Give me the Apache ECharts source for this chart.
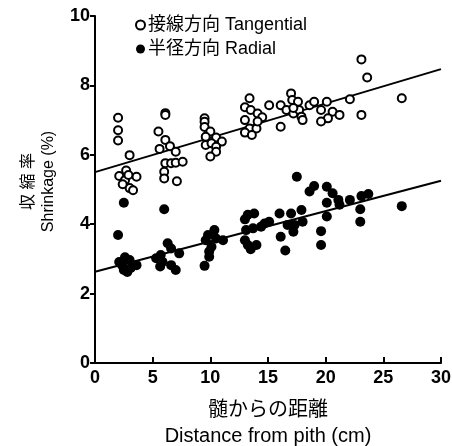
<!DOCTYPE html>
<html>
<head>
<meta charset="utf-8">
<script src="https://cdn.jsdelivr.net/npm/echarts@6/dist/echarts.min.js"></script>
<style>
  html, body { margin: 0; padding: 0; background: #fff; }
  #chart { width: 452px; height: 446px; }
</style>
</head>
<body>
<div id="chart"></div>
<script>
// 接線方向 (open circles): [distance cm, shrinkage %]
const tangential = [
  [2.0, 7.07], [2.0, 6.71], [2.0, 6.41], [3.0, 5.99], [2.1, 5.39], [2.6, 5.27],
  [2.7, 5.55], [3.0, 5.04], [3.3, 4.98], [3.6, 5.37], [2.9, 5.42], [2.4, 5.15],
  [5.5, 6.67], [6.1, 7.2], [6.1, 7.15], [6.1, 6.43], [5.6, 6.17], [6.5, 6.25],
  [7.0, 6.09], [6.1, 5.76], [6.6, 5.76], [7.0, 5.77], [7.6, 5.8], [6.0, 5.51],
  [6.0, 5.32], [7.1, 5.24],
  [9.5, 7.05], [9.5, 6.95], [9.5, 6.8], [10.0, 6.67], [9.6, 6.52], [10.5, 6.5],
  [11.0, 6.38], [9.6, 6.28], [10.1, 6.33], [10.5, 6.23], [10.5, 6.09], [10.0, 5.95],
  [13.4, 7.63], [13.0, 7.37], [13.5, 7.29], [14.1, 7.19], [14.5, 7.08], [13.0, 7.0],
  [13.4, 6.76], [14.0, 6.76], [13.0, 6.64], [13.6, 6.57], [14.1, 6.96], [15.1, 7.43],
  [16.1, 7.43], [16.1, 6.81], [17.0, 7.77], [17.1, 7.58], [17.6, 7.53], [16.6, 7.29],
  [17.2, 7.19], [17.7, 7.29], [17.9, 7.1], [17.2, 7.35],
  [18.6, 7.43], [19.0, 7.53], [20.1, 7.53], [19.6, 7.29], [20.6, 7.24], [21.2, 7.15],
  [20.2, 7.05], [19.6, 6.96], [18.0, 7.0],
  [22.1, 7.6], [23.1, 8.75], [23.6, 8.23], [23.1, 7.15], [26.6, 7.63]
];

// 半径方向 (filled circles)
const radial = [
  [2.5, 4.62], [2.0, 3.69], [2.1, 2.91], [2.6, 3.05], [3.0, 2.97], [2.5, 2.68],
  [3.1, 2.74], [3.6, 2.82], [2.35, 2.82], [2.8, 2.62],
  [6.0, 4.43], [5.3, 3.02], [5.7, 3.11], [6.3, 3.45], [6.6, 3.3], [7.3, 3.16],
  [5.85, 2.92], [6.6, 2.82], [7.0, 2.68], [5.65, 2.78],
  [9.5, 2.8], [9.9, 3.21], [10.35, 3.83], [9.8, 3.69], [10.5, 3.59], [11.1, 3.54],
  [10.1, 3.35], [9.9, 3.06], [9.6, 3.54],
  [13.25, 4.27], [13.8, 4.31], [13.0, 4.14], [13.1, 3.83], [13.7, 3.88], [13.0, 3.54],
  [13.25, 3.4], [14.0, 3.4], [13.5, 3.28], [14.7, 4.02], [15.1, 4.07], [14.4, 3.93],
  [16.0, 4.31], [16.1, 3.64], [16.5, 3.24], [17.0, 4.31], [16.7, 3.98], [17.2, 3.78],
  [17.5, 5.37], [17.9, 4.41], [17.3, 3.98], [18.0, 4.07],
  [18.6, 4.94], [19.0, 5.1], [20.1, 5.08], [20.6, 4.89], [21.1, 4.7], [20.1, 4.62],
  [20.1, 4.22], [19.6, 3.8], [19.6, 3.4], [21.2, 4.56],
  [22.1, 4.7], [23.1, 4.81], [23.7, 4.87], [23.0, 4.43], [23.0, 4.07], [26.6, 4.52]
];

// regression lines, end points
const tangentialFit = [[0, 5.5], [30, 8.47]];
const radialFit = [[0, 2.63], [30, 5.25]];

const xTicks = [0, 30, 5];   // min, max, interval
const yTicks = [0, 10, 2];

const FONT = "'Liberation Sans', 'Noto Sans CJK JP', sans-serif";

const chart = echarts.init(document.getElementById('chart'));

const option = {
  animation: false,
  textStyle: { fontFamily: FONT, color: '#000' },
  legend: {
    orient: 'vertical',
    left: 130,
    top: 11,
    itemWidth: 9,
    itemHeight: 9,
    itemGap: 6,
    icon: 'circle',
    selectedMode: false,
    data: ['接線方向 Tangential', '半径方向 Radial'],
    textStyle: { fontFamily: FONT, fontSize: 18, color: '#000', padding: [0, 0, 0, -2] },
  },
  grid: { left: 95, right: 11, top: 16, bottom: 83, outerBoundsMode: 'none' },
  xAxis: {
    type: 'value',
    min: xTicks[0],
    max: xTicks[1],
    interval: xTicks[2],
    name: '髄からの距離\nDistance from pith (cm)',
    nameLocation: 'middle',
    nameGap: 34,
    nameTextStyle: { fontFamily: FONT, fontSize: 20, lineHeight: 26, color: '#000' },
    axisLine: { lineStyle: { color: '#000', width: 2 } },
    axisTick: { inside: true, length: 6, lineStyle: { color: '#000', width: 2 } },
    axisLabel: { margin: 6, fontSize: 18, fontWeight: 'bold', color: '#000', fontFamily: FONT },
    splitLine: { show: false },
  },
  yAxis: {
    type: 'value',
    min: yTicks[0],
    max: yTicks[1],
    interval: yTicks[2],
    name: '収 縮 率\nShrinkage (%)',
    nameLocation: 'middle',
    nameRotate: 90,
    nameGap: 36,
    nameTextStyle: { fontFamily: FONT, fontSize: 16, lineHeight: 20, color: '#000', padding: [0, 0, 0, 16] },
    axisLine: { lineStyle: { color: '#000', width: 2 } },
    axisTick: { length: 5, lineStyle: { color: '#000', width: 2 } },
    axisLabel: { margin: 5, fontSize: 18, fontWeight: 'bold', color: '#000', fontFamily: FONT },
    splitLine: { show: false },
  },
  series: [
    {
      name: '接線方向 Tangential',
      type: 'scatter',
      symbol: 'circle',
      symbolSize: 8,
      itemStyle: { color: '#fff', borderColor: '#000', borderWidth: 2, opacity: 1 },
      data: tangential,
      z: 3,
    },
    {
      name: '半径方向 Radial',
      type: 'scatter',
      symbol: 'circle',
      symbolSize: 10,
      itemStyle: { color: '#000', opacity: 1 },
      data: radial,
      z: 3,
    },
    {
      type: 'line',
      data: tangentialFit,
      showSymbol: false,
      silent: true,
      lineStyle: { color: '#000', width: 2 },
      z: 2,
    },
    {
      type: 'line',
      data: radialFit,
      showSymbol: false,
      silent: true,
      lineStyle: { color: '#000', width: 2 },
      z: 2,
    },
  ],
};

chart.setOption(option);
</script>
</body>
</html>
